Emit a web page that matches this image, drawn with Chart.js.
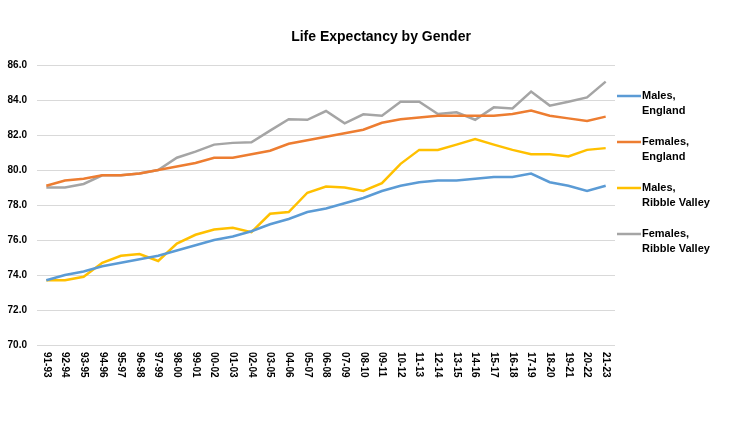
<!DOCTYPE html>
<html>
<head>
<meta charset="utf-8">
<script src="https://cdn.jsdelivr.net/npm/chart.js@4.4.1/dist/chart.umd.min.js"></script>
<style>
  html, body { margin: 0; padding: 0; background: #fff; }
  #wrap { width: 738px; height: 423px; }
</style>
</head>
<body>
<div id="wrap"><canvas id="c" width="738" height="423"></canvas></div>
<script>
const periods = ['91-93','92-94','93-95','94-96','95-97','96-98','97-99','98-00','99-01','00-02','01-03','02-04','03-05','04-06','05-07','06-08','07-09','08-10','09-11','10-12','11-13','12-14','13-15','14-16','15-17','16-18','17-19','18-20','19-21','20-22','21-23'];
const malesEngland = [73.7, 74.0, 74.2, 74.5, 74.7, 74.9, 75.1, 75.4, 75.7, 76.0, 76.2, 76.5, 76.9, 77.2, 77.6, 77.8, 78.1, 78.4, 78.8, 79.1, 79.3, 79.4, 79.4, 79.5, 79.6, 79.6, 79.8, 79.3, 79.1, 78.8, 79.1];
const femalesEngland = [79.1, 79.4, 79.5, 79.7, 79.7, 79.8, 80.0, 80.2, 80.4, 80.7, 80.7, 80.9, 81.1, 81.5, 81.7, 81.9, 82.1, 82.3, 82.7, 82.9, 83.0, 83.1, 83.1, 83.1, 83.1, 83.2, 83.4, 83.1, 82.95, 82.8, 83.05];
const malesRibble = [73.7, 73.7, 73.9, 74.7, 75.1, 75.2, 74.8, 75.8, 76.3, 76.6, 76.7, 76.45, 77.5, 77.6, 78.7, 79.05, 79.0, 78.8, 79.25, 80.35, 81.15, 81.15, 81.45, 81.77, 81.45, 81.15, 80.9, 80.9, 80.77, 81.15, 81.25];
const femalesRibble = [79.0, 79.0, 79.2, 79.7, 79.7, 79.8, 80.0, 80.7, 81.05, 81.45, 81.55, 81.58, 82.25, 82.9, 82.87, 83.37, 82.67, 83.18, 83.1, 83.9, 83.9, 83.2, 83.3, 82.87, 83.58, 83.52, 84.48, 83.68, 83.9, 84.15, 85.05];
const seriesNames = [['Males,', 'England'], ['Females,', 'England'], ['Males,', 'Ribble Valley'], ['Females,', 'Ribble Valley']];
const colors = ['#5b9bd5', '#ed7d31', '#ffc000', '#a5a5a5'];
const chartTitle = 'Life Expectancy by Gender';

const FONT = '"Liberation Sans", Arial, sans-serif';

// title, rotated x labels and the two-line legend are drawn by hand
const extras = {
    id: 'extras',
    afterDraw(chart) {
        const ctx = chart.ctx;
        const xs = chart.scales.x;
        ctx.save();
        ctx.fillStyle = '#000';
        ctx.font = 'bold 14px ' + FONT;
        ctx.textAlign = 'center';
        ctx.textBaseline = 'middle';
        ctx.fillText(chartTitle, 381, 37);

        ctx.font = 'bold 10px ' + FONT;
        ctx.textAlign = 'left';
        periods.forEach((p, i) => {
            const x = xs.getPixelForTick(i);
            ctx.save();
            ctx.translate(x, chart.chartArea.bottom + 7);
            ctx.rotate(Math.PI / 2);
            ctx.fillText(p, 0, 0);
            ctx.restore();
        });

        ctx.font = 'bold 11px ' + FONT;
        seriesNames.forEach((name, i) => {
            const y = 96 + i * 46;
            ctx.strokeStyle = colors[i];
            ctx.lineWidth = 2.5;
            ctx.beginPath();
            ctx.moveTo(617, y);
            ctx.lineTo(641, y);
            ctx.stroke();
            ctx.fillText(name[0], 642, y);
            ctx.fillText(name[1], 642, y + 15);
        });
        ctx.restore();
    }
};

new Chart(document.getElementById('c'), {
    type: 'line',
    data: {
        labels: periods,
        datasets: [
            { label: 'Males, England', data: malesEngland, borderColor: colors[0] },
            { label: 'Females, England', data: femalesEngland, borderColor: colors[1] },
            { label: 'Males, Ribble Valley', data: malesRibble, borderColor: colors[2] },
            { label: 'Females, Ribble Valley', data: femalesRibble, borderColor: colors[3] }
        ].map(d => Object.assign(d, { borderWidth: 2.5, pointRadius: 0, tension: 0, fill: false }))
    },
    options: {
        responsive: false,
        animation: false,
        layout: { padding: { left: 0, right: 123, top: 65, bottom: 0 } },
        plugins: { legend: { display: false }, title: { display: false }, tooltip: { enabled: false } },
        scales: {
            x: {
                offset: true,
                grid: { display: false },
                border: { display: false },
                ticks: { color: 'transparent', minRotation: 90, maxRotation: 90, autoSkip: false },
                afterFit: s => { s.height = 78; }
            },
            y: {
                min: 70, max: 86,
                grid: { color: '#d9d9d9', drawTicks: false },
                border: { display: false },
                ticks: { stepSize: 2, padding: 10, color: '#000', font: { family: FONT, size: 10, weight: 'bold' }, callback: v => v.toFixed(1) },
                afterFit: s => { s.width = 37; }
            }
        }
    },
    plugins: [extras]
});
</script>
</body>
</html>
